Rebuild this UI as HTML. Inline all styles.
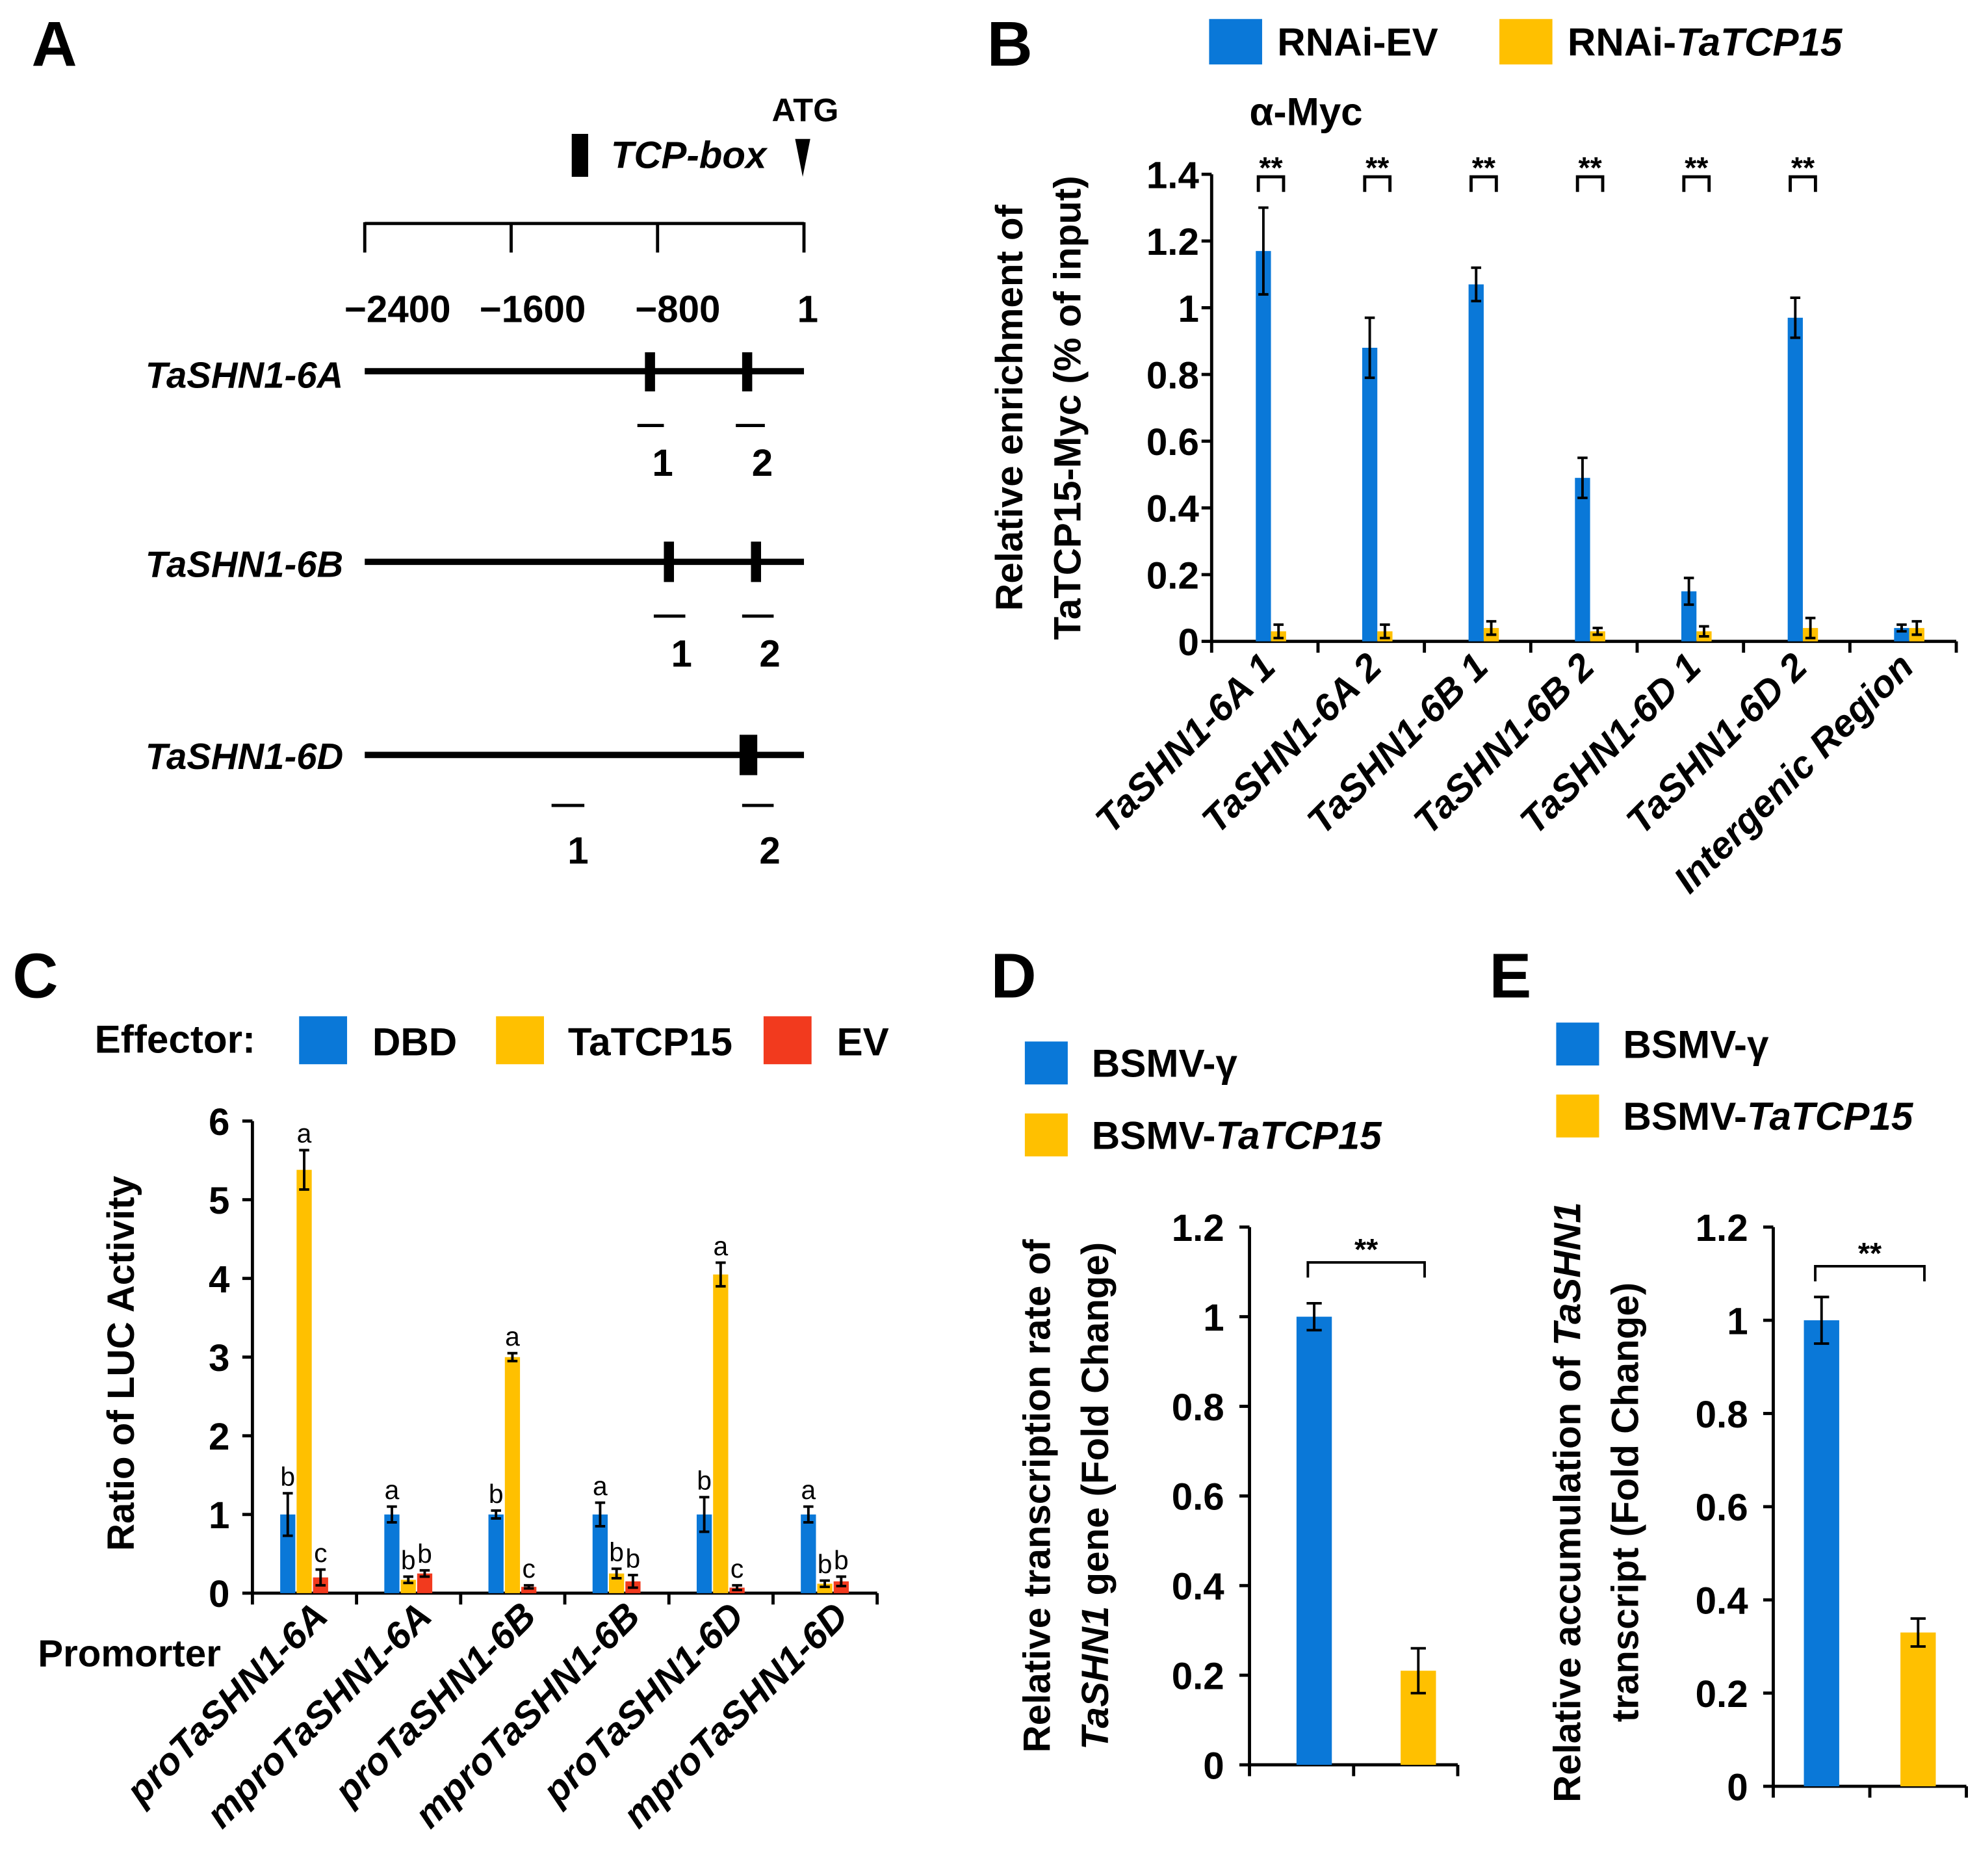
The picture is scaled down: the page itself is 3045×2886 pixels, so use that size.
<!DOCTYPE html>
<html><head><meta charset="utf-8"><style>
html,body{margin:0;padding:0;background:#fff}
svg{display:block}
text{font-family:"Liberation Sans",Arial,sans-serif;font-weight:bold;fill:#000}
</style></head><body>
<svg id="fig" xmlns="http://www.w3.org/2000/svg" width="3045" height="2886" viewBox="0 0 1568 1486">
<g>
<text x="25" y="52" font-size="50">A</text>
<text x="638" y="96" font-size="26" text-anchor="middle">ATG</text>
<polygon points="630,110 642,110 636,140" fill="#000"/>
<rect x="453" y="106" width="13" height="34" fill="#000"/>
<text x="484" y="133" font-size="30" font-style="italic">TCP-box</text>
<g stroke="#000" stroke-width="2.5">
<line x1="289" y1="177" x2="637" y2="177"/><line x1="289" y1="176" x2="289" y2="200"/><line x1="405" y1="176" x2="405" y2="200"/><line x1="521" y1="176" x2="521" y2="200"/><line x1="637" y1="176" x2="637" y2="200"/></g>
<g font-size="30" text-anchor="middle">
<text x="315" y="255">−2400</text><text x="422" y="255">−1600</text><text x="537" y="255">−800</text><text x="640" y="255">1</text></g>
<g font-size="29" font-style="italic" text-anchor="end">
<text x="272" y="307">TaSHN1-6A</text>
<text x="272" y="457">TaSHN1-6B</text>
<text x="272" y="609">TaSHN1-6D</text></g>
<g stroke="#000" stroke-width="5">
<line x1="289" y1="294" x2="637" y2="294"/><line x1="289" y1="445" x2="637" y2="445"/><line x1="289" y1="598" x2="637" y2="598"/></g>
<g fill="#000">
<rect x="511" y="279" width="8" height="31"/><rect x="588" y="279" width="8" height="31"/>
<rect x="526" y="429" width="8" height="32"/><rect x="595" y="429" width="8" height="32"/>
<rect x="586" y="582" width="14" height="32"/></g>
<g stroke="#000" stroke-width="2.5">
<line x1="505" y1="337" x2="526" y2="337"/><line x1="583" y1="337" x2="606" y2="337"/>
<line x1="518" y1="488" x2="543" y2="488"/><line x1="588" y1="488" x2="613" y2="488"/>
<line x1="437" y1="638" x2="463" y2="638"/><line x1="588" y1="638" x2="613" y2="638"/></g>
<g font-size="30" text-anchor="middle">
<text x="525" y="377">1</text><text x="604" y="377">2</text><text x="540" y="528">1</text><text x="610" y="528">2</text><text x="458" y="684">1</text><text x="610" y="684">2</text></g>
</g>
<g id="charts"></g>
</svg>
<script>
const bCats = ["TaSHN1-6A 1","TaSHN1-6A 2","TaSHN1-6B 1","TaSHN1-6B 2","TaSHN1-6D 1","TaSHN1-6D 2","Intergenic Region"];
const bEV = [1.17,0.88,1.07,0.49,0.15,0.97,0.04];
const bEVerr = [0.13,0.09,0.05,0.06,0.04,0.06,0.01];
const bTCP = [0.03,0.03,0.04,0.03,0.03,0.04,0.04];
const bTCPerr = [0.02,0.02,0.02,0.01,0.015,0.03,0.02];
const bSig = ["**","**","**","**","**","**",""];
const bTicks = [0,0.2,0.4,0.6,0.8,1,1.2,1.4];
const bTickLabels = ["0","0.2","0.4","0.6","0.8","1","1.2","1.4"];
const cCats = ["proTaSHN1-6A","mproTaSHN1-6A","proTaSHN1-6B","mproTaSHN1-6B","proTaSHN1-6D","mproTaSHN1-6D"];
const cDBD = [1,1,1,1,1,1];
const cDBDerr = [0.27,0.1,0.05,0.15,0.22,0.1];
const cDBDlet = ["b","a","b","a","b","a"];
const cTCP = [5.38,0.17,3.0,0.25,4.05,0.12];
const cTCPerr = [0.25,0.04,0.05,0.06,0.15,0.04];
const cTCPlet = ["a","b","a","b","a","b"];
const cEV = [0.2,0.25,0.08,0.15,0.07,0.15];
const cEVerr = [0.1,0.04,0.02,0.08,0.03,0.06];
const cEVlet = ["c","b","c","b","c","b"];
const cTicks = [0,1,2,3,4,5,6];
const dVals = [1,0.21];
const dErr = [0.03,0.05];
const eVals = [1,0.33];
const eErr = [0.05,0.03];
const deTicks = [0,0.2,0.4,0.6,0.8,1,1.2];
const deTickLabels = ["0","0.2","0.4","0.6","0.8","1","1.2"];

const BLUE="#0a78d8", YEL="#ffc000", RED="#f23a1e";
const NS="http://www.w3.org/2000/svg";
const root=document.getElementById("charts");
function el(tag,attrs,parent,txt){const e=document.createElementNS(NS,tag);for(const k in attrs)e.setAttribute(k,attrs[k]);if(txt!==undefined)e.textContent=txt;(parent||root).appendChild(e);return e;}
function grp(name){const g=el("g",{});


return g;}
function bar(g,name,x,w,y0,y1,fill){const r=el("rect",{x:x,y:y1,width:w,height:y0-y1,fill:fill},g);


return r;}
function errbar(g,name,cx,yv,ye,yl,hw){const e=el("path",{d:`M${cx},${yl} V${ye} M${cx-hw},${ye} H${cx+hw} M${cx-hw},${yl} H${cx+hw}`,stroke:"#000","stroke-width":2,fill:"none"},g);

}

(function(){
const g=grp("panel-b");
const x0=960,x1=1550,y0=508,yTop=138,ymax=1.4;
const Y=v=>y0-(v/ymax)*(y0-yTop);
const gw=(x1-x0)/bCats.length;
const t=el("text",{x:782,y:52,"font-size":50},g,"B");


const l1=el("rect",{x:958,y:15,width:42,height:36,fill:BLUE},g);


const lt1=el("text",{x:1012,y:44,"font-size":31},g,"RNAi-EV");


const l2=el("rect",{x:1188,y:15,width:42,height:36,fill:YEL},g);


const lt2=el("text",{x:1242,y:44,"font-size":31},g);


el("tspan",{},lt2,"RNAi-");el("tspan",{"font-style":"italic"},lt2,"TaTCP15");
const am=el("text",{x:990,y:99,"font-size":31},g,"α-Myc");


const ax=el("path",{d:`M${x0},${yTop} V${y0} H${x1}`,stroke:"#000","stroke-width":2.5,fill:"none"},g);


bTicks.forEach((v,i)=>{el("line",{x1:x0-8,y1:Y(v),x2:x0,y2:Y(v),stroke:"#000","stroke-width":2.5},g);
const tl=el("text",{x:x0-10,y:Y(v)+11,"font-size":30,"text-anchor":"end"},g,bTickLabels[i]);

});
for(let i=0;i<=bCats.length;i++)el("line",{x1:x0+i*gw,y1:y0,x2:x0+i*gw,y2:y0+9,stroke:"#000","stroke-width":2.5},g);
bCats.forEach((c,i)=>{const s=x0+i*gw;
const bx=s+35,yx=s+47,w=12;
bar(g,"bar-rnai-ev-"+i,bx,w,y0,Y(bEV[i]),BLUE);
bar(g,"bar-rnai-tatcp15-"+i,yx,w,y0,Y(bTCP[i]),YEL);
errbar(g,"err-rnai-ev-"+i,bx+w/2,bEV[i],Y(bEV[i]+bEVerr[i]),Y(bEV[i]-bEVerr[i]),4);
errbar(g,"err-rnai-tatcp15-"+i,yx+w/2,bTCP[i],Y(bTCP[i]+bTCPerr[i]),Y(Math.max(0,bTCP[i]-bTCPerr[i])),4);
if(bSig[i]){const br=el("path",{d:`M${bx+2},152 V140 H${yx+10} V152`,stroke:"#000","stroke-width":2.5,fill:"none"},g);


const st=el("text",{x:(bx+yx+12)/2,y:141,"font-size":24,"text-anchor":"middle"},g,bSig[i]);

}
const cx=s+gw/2+10;
const xl=el("text",{x:cx,y:530,"font-size":30,"font-style":"italic","text-anchor":"end",transform:`rotate(-45 ${cx} 530)`},g,c);

});
const yt=el("text",{transform:"translate(810,323) rotate(-90)","font-size":30,"text-anchor":"middle"},g,"Relative enrichment of");


const yt2=el("text",{transform:"translate(856,323) rotate(-90)","font-size":30,"text-anchor":"middle"},g,"TaTCP15-Myc  (% of input)");


})();

(function(){
const g=grp("panel-c");
const x0=200,x1=695,y0=1262,yTop=888,ymax=6;
const Y=v=>y0-(v/ymax)*(y0-yTop);
const gw=(x1-x0)/cCats.length;
const t=el("text",{x:10,y:790,"font-size":50},g,"C");


const ef=el("text",{x:75,y:834,"font-size":31},g,"Effector:");


[[237,BLUE,"DBD",295],[393,YEL,"TaTCP15",450],[605,RED,"EV",663]].forEach(([x,c,lab,tx])=>{
const r=el("rect",{x:x,y:805,width:38,height:38,fill:c},g);


const tt=el("text",{x:tx,y:836,"font-size":31},g,lab);

});
const ax=el("path",{d:`M${x0},${yTop} V${y0} H${x1}`,stroke:"#000","stroke-width":2.5,fill:"none"},g);


cTicks.forEach(v=>{el("line",{x1:x0-8,y1:Y(v),x2:x0,y2:Y(v),stroke:"#000","stroke-width":2.5},g);
const tl=el("text",{x:x0-18,y:Y(v)+11,"font-size":30,"text-anchor":"end"},g,String(v));

});
for(let i=0;i<=cCats.length;i++)el("line",{x1:x0+i*gw,y1:y0,x2:x0+i*gw,y2:y0+9,stroke:"#000","stroke-width":2.5},g);
cCats.forEach((c,i)=>{const s=x0+i*gw,w=12;
const sets=[[cDBD,cDBDerr,cDBDlet,BLUE,"dbd",s+22],[cTCP,cTCPerr,cTCPlet,YEL,"tatcp15",s+35],[cEV,cEVerr,cEVlet,RED,"ev",s+48]];
sets.forEach(([v,e,l,col,n,bx])=>{
bar(g,"bar-"+n+"-"+i,bx,w,y0,Y(v[i]),col);
errbar(g,"err-"+n+"-"+i,bx+w/2,v[i],Y(v[i]+e[i]),Y(Math.max(0,v[i]-e[i])),4);
const lt=el("text",{x:bx+w/2,y:Y(v[i]+e[i])-6,"font-size":21,style:"font-weight:normal","text-anchor":"middle"},g,l[i]);

});
const cx=s+gw/2+20;
const xl=el("text",{x:cx,y:1282,"font-size":30,"font-style":"italic","text-anchor":"end",transform:`rotate(-45 ${cx} 1282)`},g,c);

});
const pr=el("text",{x:30,y:1320,"font-size":30},g,"Promorter");


const yt=el("text",{transform:"translate(106,1080) rotate(-90)","font-size":30,"text-anchor":"middle"},g,"Ratio of LUC Activity");


})();

function smallPanel(cfg,vals,errs){
const g=grp(cfg.name);
const {x0,x1,y0,yTop}=cfg,ymax=1.2;
const Y=v=>y0-(v/ymax)*(y0-yTop);
const t=el("text",{x:cfg.lx,y:790,"font-size":50},g,cfg.letter);


const r1=el("rect",{x:cfg.legX,y:cfg.legY,width:34,height:34,fill:BLUE},g);


const t1=el("text",{x:cfg.legX+53,y:cfg.legY+28,"font-size":31},g,"BSMV-γ");


const r2=el("rect",{x:cfg.legX,y:cfg.legY+cfg.legDy,width:34,height:34,fill:YEL},g);


const t2=el("text",{x:cfg.legX+53,y:cfg.legY+cfg.legDy+28,"font-size":31},g);


el("tspan",{},t2,"BSMV-");el("tspan",{"font-style":"italic"},t2,"TaTCP15");
const ax=el("path",{d:`M${x0},${yTop} V${y0} H${x1}`,stroke:"#000","stroke-width":2.5,fill:"none"},g);


deTicks.forEach((v,i)=>{el("line",{x1:x0-8,y1:Y(v),x2:x0,y2:Y(v),stroke:"#000","stroke-width":2.5},g);
const tl=el("text",{x:x0-20,y:Y(v)+11,"font-size":30,"text-anchor":"end"},g,deTickLabels[i]);

});
const gw=(x1-x0)/2;
for(let i=0;i<=2;i++)el("line",{x1:x0+i*gw,y1:y0,x2:x0+i*gw,y2:y0+9,stroke:"#000","stroke-width":2.5},g);
const cols=[BLUE,YEL],nm=["bsmv-gamma","bsmv-tatcp15"];
const off=cfg.off||0;
vals.forEach((v,i)=>{const bx=x0+i*gw+gw/2-14+off,w=28;
bar(g,"bar-"+nm[i],bx,w,y0,Y(v),cols[i]);
errbar(g,"err-"+nm[i],bx+w/2,v,Y(v+errs[i]),Y(v-errs[i]),6);});
const c0=x0+gw/2+off,c1=x0+1.5*gw+off;
const br=el("path",{d:`M${c0-5},${cfg.brY+12} V${cfg.brY} H${c1+5} V${cfg.brY+12}`,stroke:"#000","stroke-width":2,fill:"none"},g);


const st=el("text",{x:(c0+c1)/2,y:cfg.brY-2,"font-size":24,"text-anchor":"middle"},g,"**");


cfg.titles.forEach((tt,k)=>{const te=el("text",{transform:`translate(${tt.x},${cfg.ty}) rotate(-90)`,"font-size":30,"text-anchor":"middle"},g);


tt.parts.forEach(p=>el("tspan",p[1]?{"font-style":"italic"}:{},te,p[0]));});
}
smallPanel({name:"panel-d",letter:"D",lx:785,x0:990,x1:1155,y0:1398,yTop:972,off:10,legX:812,legY:825,legDy:57,brY:1000,ty:1185,
titles:[{x:832,parts:[["Relative transcription rate of",0]]},{x:878,parts:[["TaSHN1",1],[" gene (Fold Change)",0]]}]},dVals,dErr);
smallPanel({name:"panel-e",letter:"E",lx:1180,x0:1405,x1:1558,y0:1415,yTop:972,off:0,legX:1233,legY:810,legDy:57,brY:1003,ty:1190,
titles:[{x:1252,parts:[["Relative accumulation of ",0],["TaSHN1",1]]},{x:1298,parts:[["transcript  (Fold Change)",0]]}]},eVals,eErr);
</script>
</body></html>
